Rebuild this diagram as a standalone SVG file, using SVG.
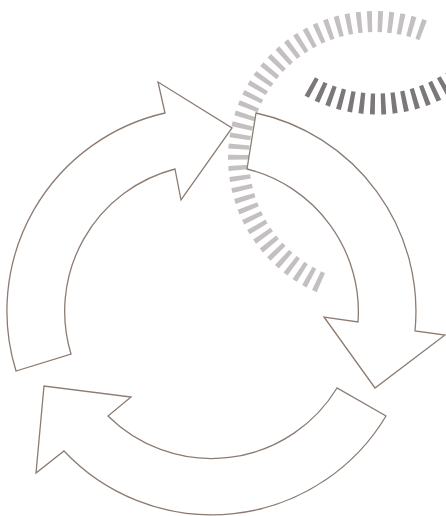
<svg xmlns="http://www.w3.org/2000/svg" width="446" height="516" viewBox="0 0 446 516">
  <style>
    .ticks { fill: none; stroke-width: 21; }
    .light { stroke: #c4c0c1; }
    .dark { stroke: #7c7879; }
    .arrow { fill: #ffffff; stroke: #8c7c72; stroke-width: 1.3; stroke-linejoin: miter; }
  </style>
  <rect width="446" height="516" fill="#ffffff"/>
  <g id="dashed-rings">
    <path class="ticks light" d="M 423.1 30.5 A 136 136 0 1 0 326.1 284.7" pathLength="410" stroke-dasharray="4.5 5.5"/>
    <path class="ticks dark" d="M 309.8 86.3 A 136 136 0 0 0 464.4 72.2" stroke-dasharray="4.6 6"/>
  </g>
  <g id="connectors">
    <g id="arrow-left">
      <path class="arrow" d="M 16 371 A 203 203 0 0 1 165 113 L 158 82 L 232 128 L 181 200 L 175 169 A 147 147 0 0 0 71 354 Z"/>
    </g>
    <g id="arrow-right">
      <path class="arrow" d="M 256 113 A 203 203 0 0 1 415 331 L 445 335 L 375 388 L 324 317 L 358 322 A 147 147 0 0 0 247 169 Z"/>
    </g>
    <g id="arrow-bottom">
      <path class="arrow" d="M 386 416 A 203 203 0 0 1 64 451 L 36 473 L 44 386 L 131 397 L 108 416 A 147 147 0 0 0 337 388 Z"/>
    </g>
  </g>
</svg>
